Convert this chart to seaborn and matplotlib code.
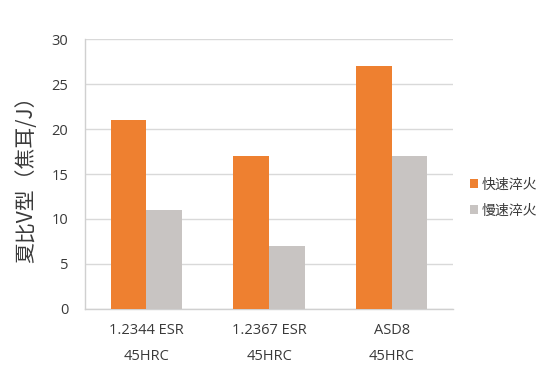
import matplotlib
matplotlib.use("Agg")
import matplotlib.pyplot as plt
import seaborn as sns
import pandas as pd

categories = ["1.2344 ESR\n45HRC", "1.2367 ESR\n45HRC", "ASD8\n45HRC"]
series_names = ["快速淬火", "慢速淬火"]
fast_quench = [21, 17, 27]
slow_quench = [11, 7, 17]
y_ticks = [0, 5, 10, 15, 20, 25, 30]
y_label = "夏比V型（焦耳/J）"
colors = ["#EE8030", "#C8C4C2"]

df = pd.DataFrame({
    "cat": categories * 2,
    "series": [series_names[0]] * 3 + [series_names[1]] * 3,
    "value": fast_quench + slow_quench,
})

sns.set_theme(style="white")
plt.rcParams["font.family"] = ["Open Sans", "Noto Sans CJK SC", "DejaVu Sans"]

fig = plt.figure(figsize=(5.48, 3.66), dpi=100)
ax = fig.add_axes([0.155, 0.156, 0.672, 0.737])

sns.barplot(data=df, x="cat", y="value", hue="series", palette=colors,
            width=0.58, saturation=1, linewidth=0, ax=ax, legend=True, zorder=3)

ax.set_ylim(0, 30)
ax.set_xlim(-0.5, 2.5)
ax.set_yticks(y_ticks)
ax.yaxis.grid(True, color="#D9D9D9", linewidth=1, zorder=0)
ax.set_axisbelow(True)

for side in ["top", "right"]:
    ax.spines[side].set_visible(False)
for side in ["left", "bottom"]:
    ax.spines[side].set_color("#D0D0D0")
    ax.spines[side].set_linewidth(1)

ax.set_xticks([-0.5, 0.5, 1.5, 2.5], minor=True)
ax.tick_params(axis="x", which="minor", length=4, color="#D0D0D0", width=1, direction="out")
ax.tick_params(axis="x", which="major", length=0, pad=10, labelsize=10.5, labelcolor="#3A3A3A")
ax.tick_params(axis="y", length=5, color="#D0D0D0", width=1, direction="out", pad=7,
               labelsize=10.5, labelcolor="#3A3A3A")
ax.set_xticks(range(3))
ax.set_xticklabels(categories, linespacing=2.0)

ax.set_xlabel("")
ax.set_ylabel(y_label, fontsize=15, color="#3A3A3A",
              family=["Noto Sans CJK SC", "DejaVu Sans"], labelpad=10)

handles, labels = ax.get_legend_handles_labels()
leg = ax.legend(handles, labels, loc="center left", bbox_to_anchor=(0.84, 0.46),
                bbox_transform=fig.transFigure, frameon=False,
                handlelength=0.6, handleheight=0.6, handletextpad=0.25,
                labelspacing=0.85, borderpad=0.2,
                prop={"family": ["Noto Sans CJK SC", "DejaVu Sans"], "size": 10})
for t in leg.get_texts():
    t.set_color("#3A3A3A")

fig.savefig("out.png", dpi=100)
